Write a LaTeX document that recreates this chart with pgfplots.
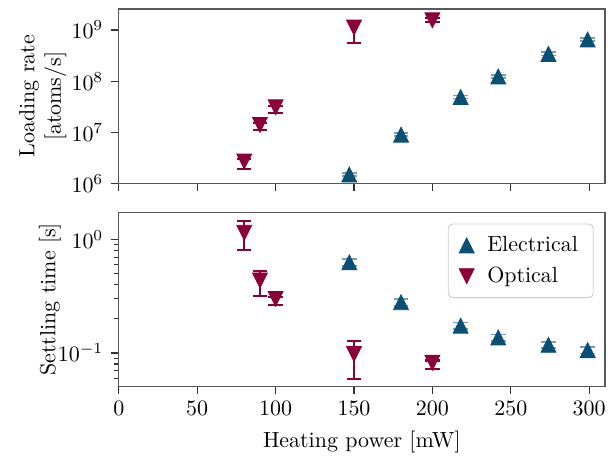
\documentclass[border=0pt]{standalone}
\usepackage{pgfplots}
\pgfplotsset{compat=1.18}
\usepackage{pgfplotstable}
\definecolor{eblue}{HTML}{0B4F75}
\definecolor{ored}{HTML}{8C0039}

% Loading rate, electrical
\pgfplotstableread{
x y ep em
147 1.5e6 1.1e5 1.0e5
180 9.0e6 6.5e5 6.0e5
218 4.9e7 3.5e6 3.3e6
242 1.23e8 9.0e6 8.5e6
274 3.4e8 2.5e7 2.3e7
299 6.5e8 4.8e7 4.5e7
}\eltop
% Loading rate, optical
\pgfplotstableread{
x y ep em
80 2.7e6 0.3e6 0.75e6
90 1.4e7 0.1e7 0.3e7
100 3.1e7 0.2e7 0.7e7
150 1.12e9 0.38e9 0.57e9
200 1.55e9 0.15e9 0.12e9
}\optop
% Settling time, electrical
\pgfplotstableread{
x y ep em
147 0.63 0.045 0.042
180 0.28 0.02 0.019
218 0.174 0.012 0.011
242 0.137 0.009 0.009
274 0.118 0.008 0.008
299 0.106 0.007 0.007
}\elbot
% Settling time, optical
\pgfplotstableread{
x y ep em
80 1.15 0.32 0.345
90 0.437 0.09 0.119
100 0.30 0.01 0.036
150 0.098 0.029 0.039
200 0.082 0.004 0.010
}\opbot

\begin{document}
\begin{tikzpicture}
\begin{axis}[name=bot, at={(0,0)}, anchor=south west,
  scale only axis, width=221.4pt, height=79.2pt,
  xmin=0, xmax=310, ymode=log, ymin=0.051, ymax=1.74,
  axis line style={black!65, line width=0.6pt},
  tick style={black!80, line width=0.5pt},
  major tick length=3.5pt, minor tick length=2pt,
  tick align=outside, tick pos=left,
  xtick={0,50,...,300},
  ylabel style={at={(axis description cs:-0.103,0.5)}, anchor=south},
  xlabel={Heating power [mW]},
  ylabel={Settling time [s]},
  legend style={at={(rel axis cs:0.977,0.935)}, anchor=north east,
    draw=black!20, rounded corners=2pt, row sep=1.5pt, column sep=4pt,
    inner xsep=5pt, inner ysep=3.5pt},
  legend cell align=left,
]
\addplot[only marks, mark=triangle*, mark size=3.9pt, color=eblue,
  mark options={draw=eblue, fill=eblue, yshift=-1.13pt, yscale=1.155},
  error bars/y dir=both, error bars/y explicit,
  error bars/error bar style={line width=0.8pt, color=eblue!55!white},
  error bars/error mark options={rotate=90, mark size=3.3pt, line width=0.8pt, color=eblue!55!white}]
  table[x=x, y=y, y error plus=ep, y error minus=em] {\elbot};
\addlegendentry{Electrical}
\addplot[only marks, mark=triangle*, mark size=3.9pt, color=ored,
  mark options={draw=ored, fill=ored, yshift=1.13pt, rotate=180, yscale=1.155},
  error bars/y dir=both, error bars/y explicit,
  error bars/error bar style={line width=1pt, color=ored},
  error bars/error mark options={rotate=90, mark size=3.3pt, line width=1pt, color=ored}]
  table[x=x, y=y, y error plus=ep, y error minus=em] {\opbot};
\addlegendentry{Optical}
\end{axis}
\begin{axis}[name=top, at={(0,92.3pt)}, anchor=south west,
  scale only axis, width=221.4pt, height=79.5pt,
  xmin=0, xmax=310, ymode=log, ymin=1e6, ymax=2.57e9,
  axis line style={black!65, line width=0.6pt},
  tick style={black!80, line width=0.5pt},
  major tick length=3.5pt, minor tick length=2pt,
  tick align=outside, tick pos=left,
  xtick={0,50,...,300},
  xticklabels={},
  ytick={1e6,1e7,1e8,1e9},
  minor y tick style={draw=none},
  ylabel style={at={(axis description cs:-0.092,0.5)}, anchor=south, align=center},
  ylabel={Loading rate\\{[atoms/s]}},
]
\addplot[only marks, mark=triangle*, mark size=3.9pt, color=eblue,
  mark options={draw=eblue, fill=eblue, yshift=-1.13pt, yscale=1.155},
  error bars/y dir=both, error bars/y explicit,
  error bars/error bar style={line width=0.8pt, color=eblue!55!white},
  error bars/error mark options={rotate=90, mark size=3.3pt, line width=0.8pt, color=eblue!55!white}]
  table[x=x, y=y, y error plus=ep, y error minus=em] {\eltop};
\addplot[only marks, mark=triangle*, mark size=3.9pt, color=ored,
  mark options={draw=ored, fill=ored, yshift=1.13pt, rotate=180, yscale=1.155},
  error bars/y dir=both, error bars/y explicit,
  error bars/error bar style={line width=1pt, color=ored},
  error bars/error mark options={rotate=90, mark size=3.3pt, line width=1pt, color=ored}]
  table[x=x, y=y, y error plus=ep, y error minus=em] {\optop};
\end{axis}
\path ([xshift=-54.1pt]bot.south west) ([xshift=3.2pt,yshift=4.1pt]top.north east);
\end{tikzpicture}
\end{document}
